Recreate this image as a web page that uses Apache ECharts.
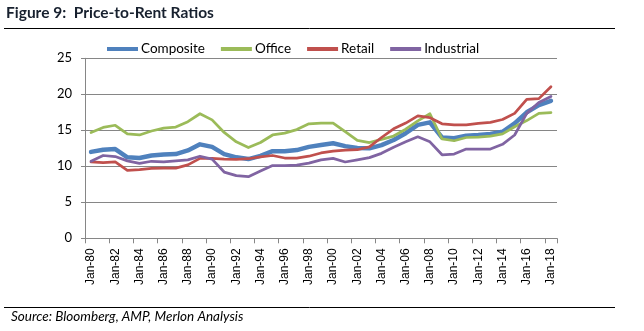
<!DOCTYPE html>
<html>
<head>
<meta charset="utf-8">
<script src="https://cdn.jsdelivr.net/npm/echarts@6/dist/echarts.min.js"></script>
<style>
html,body{margin:0;padding:0;background:#fff;}
#chart{width:644px;height:331px;}
</style>
</head>
<body>
<div id="chart"></div>
<script>
const categories = ['Jan-80','Jan-81','Jan-82','Jan-83','Jan-84','Jan-85','Jan-86','Jan-87','Jan-88','Jan-89',
  'Jan-90','Jan-91','Jan-92','Jan-93','Jan-94','Jan-95','Jan-96','Jan-97','Jan-98','Jan-99',
  'Jan-00','Jan-01','Jan-02','Jan-03','Jan-04','Jan-05','Jan-06','Jan-07','Jan-08','Jan-09',
  'Jan-10','Jan-11','Jan-12','Jan-13','Jan-14','Jan-15','Jan-16','Jan-17','Jan-18'];
const composite = [12.0,12.3,12.4,11.25,11.15,11.5,11.65,11.7,12.2,13.05,
  12.7,11.7,11.25,11.0,11.45,12.1,12.1,12.25,12.7,12.95,
  13.2,12.8,12.55,12.5,12.95,13.65,14.6,15.75,16.1,14.0,
  13.9,14.25,14.35,14.5,14.8,15.95,17.5,18.5,19.1];
const office = [14.7,15.4,15.7,14.5,14.35,14.9,15.3,15.45,16.2,17.3,
  16.45,14.7,13.4,12.6,13.3,14.35,14.6,15.1,15.9,16.0,
  16.0,14.8,13.6,13.3,13.75,14.2,15.15,16.3,17.3,13.8,
  13.55,14.0,14.05,14.2,14.5,15.5,16.35,17.35,17.45];
const retail = [10.6,10.5,10.6,9.45,9.55,9.7,9.75,9.75,10.2,11.1,
  11.1,11.0,10.95,11.05,11.3,11.5,11.15,11.15,11.4,11.85,
  12.1,12.25,12.3,12.7,14.0,15.2,16.0,17.0,16.75,15.9,
  15.75,15.75,15.95,16.1,16.5,17.35,19.3,19.4,21.05];
const industrial = [10.7,11.5,11.35,10.75,10.4,10.7,10.6,10.75,10.9,11.4,
  11.0,9.2,8.7,8.55,9.35,10.1,10.1,10.15,10.45,10.9,
  11.1,10.6,10.9,11.2,11.8,12.65,13.4,14.1,13.4,11.6,
  11.7,12.4,12.4,12.4,13.05,14.35,17.35,18.85,19.7];
const seriesNames = ['Composite','Office','Retail','Industrial'];
const yTicks = [0,5,10,15,20,25];

const chart = echarts.init(document.getElementById('chart'), null, {renderer:'canvas'});
const colors = ['#4F81BD','#9BBB59','#C0504D','#8064A2'];
const widths = [4.5,2.75,2.75,2.75];
const dataSets = [composite, office, retail, industrial];
const grey = '#868686';

chart.setOption({
  animation:false,
  color: colors,
  textStyle:{fontFamily:'Lato'},
  grid:{left:85, right:87, top:58.3, bottom:92.7, containLabel:false},
  legend:{
    left:102, top:37, icon:'rect', itemWidth:31, itemHeight:4, itemGap:16,
    textStyle:{fontFamily:'Lato', fontSize:13.5, color:'#000', padding:[0,0,0,-2]},
    data: seriesNames
  },
  xAxis:{
    type:'category', data:categories, boundaryGap:true,
    axisLine:{lineStyle:{color:grey, width:1}},
    axisTick:{show:true, interval:1, length:5, lineStyle:{color:grey}},
    axisLabel:{interval:1, rotate:90, margin:10, fontFamily:'Liberation Sans', fontSize:12, color:'#000'},
    splitLine:{show:false}
  },
  yAxis:{
    type:'value', min:yTicks[0], max:yTicks[yTicks.length-1], interval:5,
    axisLine:{show:true, lineStyle:{color:grey, width:1}},
    axisTick:{show:true, length:4, lineStyle:{color:grey}},
    axisLabel:{margin:13, fontFamily:'Lato', fontSize:13, color:'#000'},
    splitLine:{show:true, lineStyle:{color:grey, width:1}}
  },
  series: seriesNames.map((n,i)=>({
    name:n, type:'line', data:dataSets[i], showSymbol:false, symbol:'none',
    lineStyle:{width:widths[i], color:colors[i], cap:'round', join:'round'},
    itemStyle:{color:colors[i]}
  })),
  graphic:[
    {type:'text', left:6, top:5, style:{text:'Figure 9:  Price-to-Rent Ratios', font:'bold 15.5px Lato', fill:'#17202e'}},
    {type:'line', shape:{x1:4, y1:28.5, x2:615, y2:28.5}, style:{stroke:'#000', lineWidth:1}},
    {type:'line', shape:{x1:4, y1:307.5, x2:615, y2:307.5}, style:{stroke:'#000', lineWidth:1}},
    {type:'text', left:11, top:310, style:{text:'Source: Bloomberg, AMP, Merlon Analysis', font:'italic 13.5px Lato', fill:'#000'}}
  ]
});
</script>
</body>
</html>
